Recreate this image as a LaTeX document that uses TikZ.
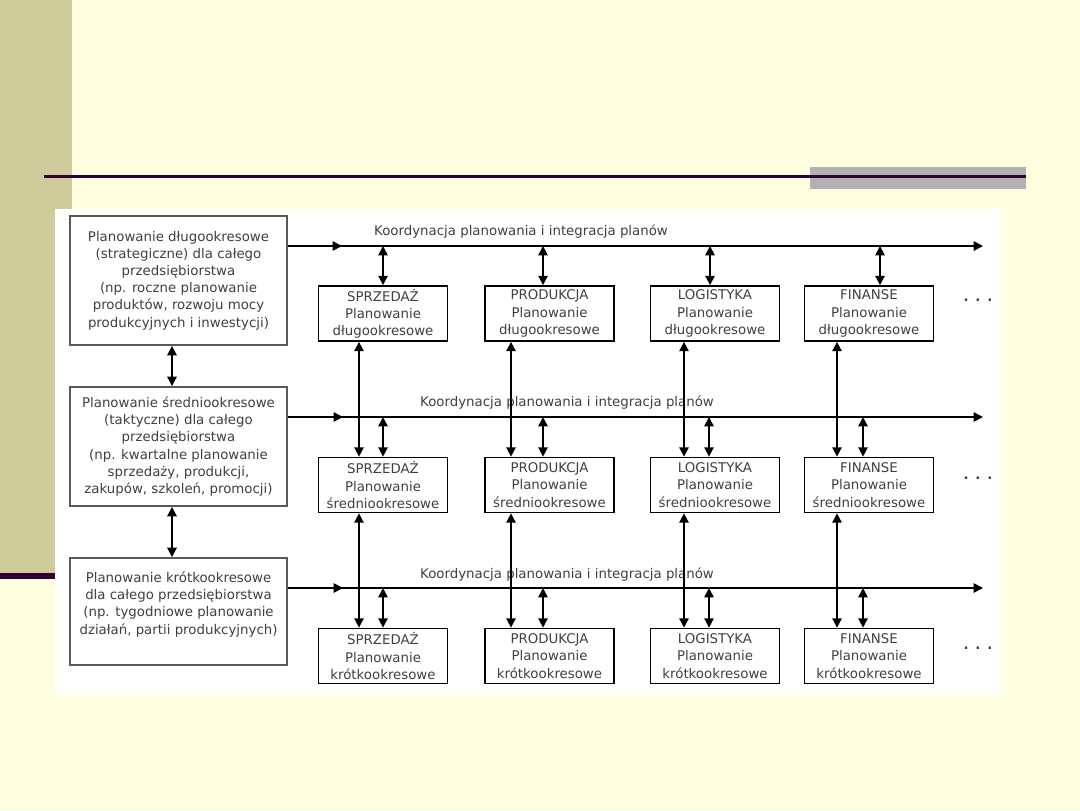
\documentclass[tikz,border=0pt]{standalone}
\usepackage{fontspec}
\setmainfont{DejaVu Sans}
\usetikzlibrary{arrows.meta}
\definecolor{slidebg}{RGB}{255,255,224}
\definecolor{stripe}{RGB}{206,204,154}
\definecolor{rulec}{RGB}{51,0,51}
\definecolor{tabc}{RGB}{178,178,178}
\begin{document}
\begin{tikzpicture}[x=0.75pt, y=-0.75pt, >={Triangle[length=7pt,width=7pt]}, line width=1.3pt,
  every node/.style={font=\fontsize{10}{12.9}\selectfont, text=black!75},
  firmbox/.style={draw=black!65, line width=1.4pt, rectangle, minimum width=162.75pt, align=center, inner sep=2pt},
  deptbox/.style={draw, rectangle, minimum width=96.75pt, minimum height=41.25pt, align=center, inner sep=1pt}]
\fill[slidebg] (0,0) rectangle (1080,810);
\fill[stripe] (0,0) rectangle (72,573);
\fill[rulec] (0,573) rectangle (55,579);
\fill[tabc] (810,167) rectangle (1026,189);
\fill[rulec] (44,175) rectangle (1026,178);
\fill[white] (55,209) rectangle (1000,695);
\node[firmbox, minimum height=96.75pt] (l1) at (178.5,280.5) {Planowanie długookresowe\\(strategiczne) dla całego\\przedsiębiorstwa\\(np. roczne planowanie\\produktów, rozwoju mocy\\produkcyjnych i inwestycji)};
\node[firmbox, minimum height=89.25pt] (l2) at (178.5,446.5) {Planowanie średniookresowe\\(taktyczne) dla całego\\przedsiębiorstwa\\(np. kwartalne planowanie\\sprzedaży, produkcji,\\zakupów, szkoleń, promocji)};
\node[firmbox, minimum height=80.25pt] (l3) at (178.5,611.5) {Planowanie krótkookresowe\\dla całego przedsiębiorstwa\\(np. tygodniowe planowanie\\działań, partii produkcyjnych)\\\mbox{}};
\node[deptbox] (s1) at (383,313.5) {SPRZEDAŻ\\Planowanie\\długookresowe};
\node[deptbox] (p1) at (549.5,313.5) {PRODUKCJA\\Planowanie\\długookresowe};
\node[deptbox] (g1) at (715,313.5) {LOGISTYKA\\Planowanie\\długookresowe};
\node[deptbox] (f1) at (869,313.5) {FINANSE\\Planowanie\\długookresowe};
\node[deptbox] (s2) at (383,485) {SPRZEDAŻ\\Planowanie\\średniookresowe};
\node[deptbox] (p2) at (549.5,485) {PRODUKCJA\\Planowanie\\średniookresowe};
\node[deptbox] (g2) at (715,485) {LOGISTYKA\\Planowanie\\średniookresowe};
\node[deptbox] (f2) at (869,485) {FINANSE\\Planowanie\\średniookresowe};
\node[deptbox] (s3) at (383,656) {SPRZEDAŻ\\Planowanie\\krótkookresowe};
\node[deptbox] (p3) at (549.5,656) {PRODUKCJA\\Planowanie\\krótkookresowe};
\node[deptbox] (g3) at (715,656) {LOGISTYKA\\Planowanie\\krótkookresowe};
\node[deptbox] (f3) at (869,656) {FINANSE\\Planowanie\\krótkookresowe};
\node (t1) at (521,232) {Koordynacja planowania i integracja planów};
\node (t2) at (567,403) {Koordynacja planowania i integracja planów};
\node (t3) at (567,575) {Koordynacja planowania i integracja planów};
\node (e1) at (978,300) {\textbf{.\,~.\,~.}};
\node (e2) at (978,478) {\textbf{.\,~.\,~.}};
\node (e3) at (978,648) {\textbf{.\,~.\,~.}};
\coordinate (k1) at (983,246);
\coordinate (k2) at (983,417);
\coordinate (k3) at (983,588);
\draw[->] (l1.east |- k1) -- (k1);
\draw[->] (l1.east |- k1) -- (342,0 |- k1);
\draw[->] (l2.east |- k2) -- (k2);
\draw[->] (l2.east |- k2) -- (343,0 |- k2);
\draw[->] (l3.east |- k3) -- (k3);
\draw[->] (l3.east |- k3) -- (343,0 |- k3);
\draw[<->] (172,0 |- l1.south) -- (172,0 |- l2.north);
\draw[<->] (172,0 |- l2.south) -- (172,0 |- l3.north);
\draw[<->] (383,0 |- k1) -- (383,0 |- s1.north);
\draw[<->] (543,0 |- k1) -- (543,0 |- p1.north);
\draw[<->] (710,0 |- k1) -- (710,0 |- g1.north);
\draw[<->] (880,0 |- k1) -- (880,0 |- f1.north);
\draw[<->] (383,0 |- k2) -- (383,0 |- s2.north);
\draw[<->] (543,0 |- k2) -- (543,0 |- p2.north);
\draw[<->] (709,0 |- k2) -- (709,0 |- g2.north);
\draw[<->] (863,0 |- k2) -- (863,0 |- f2.north);
\draw[<->] (383,0 |- k3) -- (383,0 |- s3.north);
\draw[<->] (543,0 |- k3) -- (543,0 |- p3.north);
\draw[<->] (709,0 |- k3) -- (709,0 |- g3.north);
\draw[<->] (863,0 |- k3) -- (863,0 |- f3.north);
\draw[<->] (359,0 |- s1.south) -- (359,0 |- s2.north);
\draw[<->] (511,0 |- p1.south) -- (511,0 |- p2.north);
\draw[<->] (684,0 |- g1.south) -- (684,0 |- g2.north);
\draw[<->] (837,0 |- f1.south) -- (837,0 |- f2.north);
\draw[<->] (359,0 |- s2.south) -- (359,0 |- s3.north);
\draw[<->] (511,0 |- p2.south) -- (511,0 |- p3.north);
\draw[<->] (684,0 |- g2.south) -- (684,0 |- g3.north);
\draw[<->] (837,0 |- f2.south) -- (837,0 |- f3.north);
\end{tikzpicture}
\end{document}
